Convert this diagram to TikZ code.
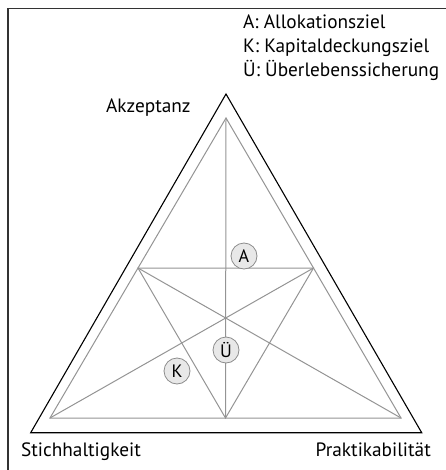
\documentclass[tikz,border=0pt]{standalone}
\usepackage{fontspec}
\setmainfont{PT Sans}
\usetikzlibrary{calc}
\begin{document}
\begin{tikzpicture}[x=1pt,y=-1pt,
  frame/.style={draw=black!80,line width=1.4pt},
  outer/.style={draw=black,line width=1.1pt,line join=miter},
  grayline/.style={draw=black!42,line width=1pt},
  goal/.style={circle,draw=black!45,fill=black!9,line width=0.8pt,minimum size=26pt,inner sep=0pt,font=\fontsize{18}{18}\selectfont},
  lbl/.style={inner sep=0pt,anchor=base west,font=\fontsize{19.3}{19.3}\selectfont}]
\useasboundingbox (0,0) rectangle (445,470);
% frame (open at right and bottom)
\draw[frame] (8,480) -- (8,8.5) -- (460,8.5);
% outer triangle
\coordinate (O1) at (226,94);
\coordinate (O2) at (30.7,432.7);
\coordinate (O3) at (421.7,432.7);
\draw[outer] (O1) -- (O2) -- (O3) -- cycle;
% inner triangle
\coordinate (T) at (226,118);
\coordinate (L) at (50,418);
\coordinate (R) at (401,418);
\coordinate (ML) at ($(T)!0.5!(L)$);
\coordinate (MR) at ($(T)!0.5!(R)$);
\coordinate (MB) at ($(L)!0.5!(R)$);
\draw[grayline] (T) -- (L) -- (R) -- cycle;
\draw[grayline] (T) -- (MB);
\draw[grayline] (ML) -- (R);
\draw[grayline] (MR) -- (L);
\draw[grayline] (ML) -- (MR) -- (MB) -- cycle;
% goals
\node[goal] (A) at (244,256) {A};
\node[goal] (U) at (226,350) {Ü};
\node[goal] (K) at (177,371) {K};
% legend
\node[lbl] (la) at (243,29) {A: Allokationsziel};
\node[lbl] (lk) at (243,53) {K: Kapitaldeckungsziel};
\node[lbl] (lu) at (243,77) {Ü: Überlebenssicherung};
% corner labels
\node[lbl] (ak) at (106,113) {Akzeptanz};
\node[lbl] (st) at (21,456) {Stichhaltigkeit};
\node[lbl,anchor=base east] (pr) at (431,456) {Praktikabilität};
\end{tikzpicture}
\end{document}
